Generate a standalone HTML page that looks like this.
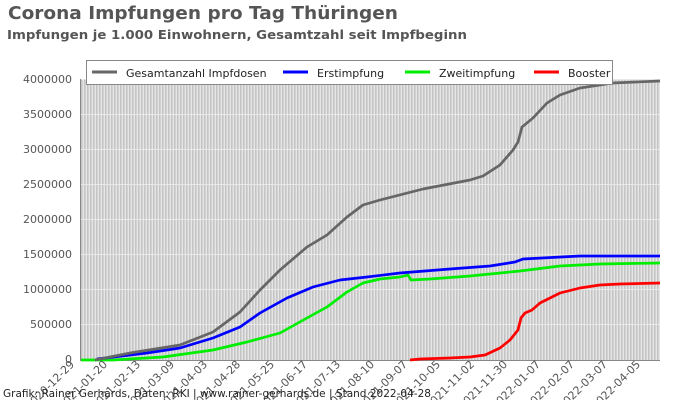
<!DOCTYPE html>
<html><head><meta charset="utf-8"><style>
html,body{margin:0;padding:0;background:#fff}
svg{display:block;font-family:"DejaVu Sans","Liberation Sans",sans-serif}
</style></head><body>
<svg width="700" height="400" viewBox="0 0 700 400" xmlns="http://www.w3.org/2000/svg">
<defs>
<pattern id="st" x="81" y="0" width="3" height="10" patternUnits="userSpaceOnUse">
<rect width="3" height="10" fill="#e6e6e6"/><rect width="1.6" height="10" fill="#c4c4c4"/>
</pattern>
</defs>
<text x="8" y="19" font-size="18" font-weight="bold" fill="#555" textLength="390" lengthAdjust="spacingAndGlyphs">Corona Impfungen pro Tag Thüringen</text>
<text x="7" y="39" font-size="12.5" font-weight="bold" fill="#555" textLength="460" lengthAdjust="spacingAndGlyphs">Impfungen je 1.000 Einwohnern, Gesamtzahl seit Impfbeginn</text>
<rect x="81" y="79" width="579" height="281" fill="url(#st)"/>
<g stroke="#e8e8e8" stroke-width="1">
<line x1="81" y1="79.5" x2="660" y2="79.5"/><line x1="81" y1="114.5" x2="660" y2="114.5"/>
<line x1="81" y1="149.5" x2="660" y2="149.5"/><line x1="81" y1="184.5" x2="660" y2="184.5"/>
<line x1="81" y1="219.5" x2="660" y2="219.5"/><line x1="81" y1="254.5" x2="660" y2="254.5"/>
<line x1="81" y1="289.5" x2="660" y2="289.5"/><line x1="81" y1="324.5" x2="660" y2="324.5"/>
</g>
<line x1="80.5" y1="79" x2="80.5" y2="360" stroke="#888"/>
<line x1="80" y1="360.5" x2="660" y2="360.5" stroke="#888"/>
<g font-size="11" fill="#555" text-anchor="end">
<text x="72" y="83">4000000</text><text x="72" y="118">3500000</text><text x="72" y="153">3000000</text>
<text x="72" y="188">2500000</text><text x="72" y="223">2000000</text><text x="72" y="258">1500000</text>
<text x="72" y="293">1000000</text><text x="72" y="328">500000</text><text x="72" y="363">0</text>
</g>
<g fill="none" stroke-width="2.7" stroke-linejoin="round">
<polyline stroke="#00ee00" points="81,360 113,360 163,357 213,350 247,342 280,333 307,318 327,307 347,292 363,283 380,279 400,277 408,275 411,280 430,279 470,276 520,271 560,266 600,264 660,263"/>
<polyline stroke="#0000ff" points="97,359 147,353 180,348 213,338 240,327 260,313 287,298 313,287 340,280 367,277 400,273 450,269 490,266 515,262 523,259 580,256 660,256"/>
<polyline stroke="#666" points="95,360 130,353 180,345 213,332 240,312 260,290 280,270 307,247 327,235 347,217 363,205 380,200 423,189 470,180 483,176 500,165 513,150 518,142 522,127 533,118 547,103 560,95 580,88 613,83 660,81"/>
<polyline stroke="#ff0000" points="410,360 420,359 450,358 470,357 485,355 500,348 510,340 518,330 521,318 525,313 532,310 540,303 560,293 580,288 600,285 620,284 660,283"/>
</g>
<rect x="86.5" y="60.5" width="526" height="24" fill="#fff" stroke="#888"/>
<g stroke-width="3">
<line x1="92" y1="72" x2="117" y2="72" stroke="#666"/>
<line x1="283" y1="72" x2="308" y2="72" stroke="#0000ff"/>
<line x1="405" y1="72" x2="430" y2="72" stroke="#00ee00"/>
<line x1="534" y1="72" x2="559" y2="72" stroke="#ff0000"/>
</g>
<g font-size="11" fill="#222">
<text x="126" y="77">Gesamtanzahl Impfdosen</text>
<text x="317" y="77">Erstimpfung</text>
<text x="439" y="77">Zweitimpfung</text>
<text x="568" y="77">Booster</text>
</g>
<g font-size="11" fill="#555" text-anchor="end">
<text transform="translate(75,365) rotate(-45)">2020-12-29</text>
<text transform="translate(108,365) rotate(-45)">2021-01-20</text>
<text transform="translate(141,365) rotate(-45)">2021-02-13</text>
<text transform="translate(175,365) rotate(-45)">2021-03-09</text>
<text transform="translate(208,365) rotate(-45)">2021-04-03</text>
<text transform="translate(241,365) rotate(-45)">2021-04-28</text>
<text transform="translate(275,365) rotate(-45)">2021-05-25</text>
<text transform="translate(308,365) rotate(-45)">2021-06-17</text>
<text transform="translate(341,365) rotate(-45)">2021-07-13</text>
<text transform="translate(375,365) rotate(-45)">2021-08-10</text>
<text transform="translate(408,365) rotate(-45)">2021-09-07</text>
<text transform="translate(441,365) rotate(-45)">2021-10-05</text>
<text transform="translate(475,365) rotate(-45)">2021-11-02</text>
<text transform="translate(508,365) rotate(-45)">2021-11-30</text>
<text transform="translate(541,365) rotate(-45)">2022-01-07</text>
<text transform="translate(575,365) rotate(-45)">2022-02-07</text>
<text transform="translate(608,365) rotate(-45)">2022-03-07</text>
<text transform="translate(641,365) rotate(-45)">2022-04-05</text>
</g>
<text x="3" y="397" font-size="11" fill="#222" textLength="428" lengthAdjust="spacingAndGlyphs">Grafik: Rainer Gerhards, Daten: RKI | www.rainer-gerhards.de | Stand 2022-04-28</text>
</svg>
</body></html>
